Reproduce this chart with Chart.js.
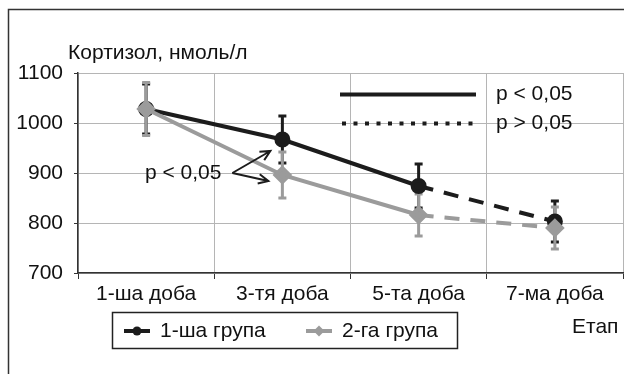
<!DOCTYPE html>
<html lang="uk">
<head>
    <meta charset="UTF-8">
    <title>Кортизол</title>
    <script src="https://cdn.jsdelivr.net/npm/chart.js"></script>
</head>
<body style="margin:0;background:#fff">
    <div style="width:624px;height:374px;position:relative">
        <canvas id="myChart" width="624" height="374"></canvas>
    </div>
<script>
    // дані з рисунка
    var stages = ['1-ша доба', '3-тя доба', '5-та доба', '7-ма доба'];
    var group1 = [1028, 967, 874, 803];
    var group2 = [1028, 896, 816, 790];
    var group1Err = [50, 47, 44, 41];
    var group2Err = [53, 46, 42, 42];
    var yTicks = [700, 800, 900, 1000, 1100];

    var FONT = "'Liberation Sans', Arial, sans-serif";
    var FSIZE = 21;
    var BLACK = '#1c1c1c';
    var GRAY = '#9b9b9b';

    // пунктир для останнього відрізку (5-та -> 7-ма доба)
    function lastDash(ctx) {
        return ctx.p0DataIndex === 2 ? [15, 11] : undefined;
    }

    var errorBars = {
        id: 'errorBars',
        beforeDatasetsDraw(chart) {
            var c = chart.ctx, ys = chart.scales.y;
            var sets = [[0, group1Err, BLACK], [1, group2Err, GRAY]];
            c.save();
            sets.forEach(function (s) {
                var meta = chart.getDatasetMeta(s[0]);
                var vals = chart.data.datasets[s[0]].data;
                c.strokeStyle = s[2];
                c.lineWidth = 3;
                meta.data.forEach(function (pt, i) {
                    var top = ys.getPixelForValue(vals[i] + s[1][i]);
                    var bot = ys.getPixelForValue(vals[i] - s[1][i]);
                    c.beginPath();
                    c.moveTo(pt.x, top); c.lineTo(pt.x, bot);
                    c.moveTo(pt.x - 4, top); c.lineTo(pt.x + 4, top);
                    c.moveTo(pt.x - 4, bot); c.lineTo(pt.x + 4, bot);
                    c.stroke();
                });
            });
            c.restore();
        }
    };

    var extras = {
        id: 'extras',
        afterDraw(chart) {
            var c = chart.ctx, xs = chart.scales.x, ys = chart.scales.y;
            var a = chart.chartArea;
            c.save();
            // рамка
            c.strokeStyle = '#333';
            c.lineWidth = 1.5;
            c.strokeRect(8.5, 9.5, 800, 600);

            c.fillStyle = '#111';
            c.font = FSIZE + 'px ' + FONT;
            c.textBaseline = 'middle';
            c.textAlign = 'left';
            c.fillText('Кортизол, нмоль/л', 68, 53);
            c.fillText('Етап', 572, 327);

            // p-позначення
            c.strokeStyle = BLACK;
            c.lineWidth = 4;
            var y1 = ys.getPixelForValue(1057), y2 = ys.getPixelForValue(999);
            c.beginPath(); c.moveTo(a.left + 262, y1); c.lineTo(a.left + 398, y1); c.stroke();
            c.setLineDash([4, 7.5]);
            c.beginPath(); c.moveTo(a.left + 264, y2); c.lineTo(a.left + 396, y2); c.stroke();
            c.setLineDash([]);
            c.fillText('p < 0,05', a.left + 418, y1);
            c.fillText('p > 0,05', a.left + 418, y2);

            // підпис і стрілки
            var x3 = xs.getPixelForValue(1);
            var ty = ys.getPixelForValue(900);
            c.textAlign = 'right';
            c.fillText('p < 0,05', x3 - 61, ty);
            c.lineWidth = 2;
            var tips = [[x3 - 12, ys.getPixelForValue(944)], [x3 - 14, ys.getPixelForValue(884)]];
            tips.forEach(function (t) {
                var sx = x3 - 50, sy = ty;
                var ang = Math.atan2(t[1] - sy, t[0] - sx);
                c.beginPath();
                c.moveTo(sx, sy); c.lineTo(t[0], t[1]);
                c.moveTo(t[0] - 11 * Math.cos(ang - 0.45), t[1] - 11 * Math.sin(ang - 0.45));
                c.lineTo(t[0], t[1]);
                c.lineTo(t[0] - 11 * Math.cos(ang + 0.45), t[1] - 11 * Math.sin(ang + 0.45));
                c.stroke();
            });

            // легенда
            c.strokeStyle = '#222';
            c.lineWidth = 1.5;
            c.strokeRect(112.5, 312.5, 345, 36);
            var ly = 331;
            var items = [[124, '1-ша група', BLACK, 'circle'], [306, '2-га група', GRAY, 'diamond']];
            items.forEach(function (it) {
                c.strokeStyle = it[2];
                c.fillStyle = it[2];
                c.lineWidth = 4;
                c.beginPath(); c.moveTo(it[0], ly); c.lineTo(it[0] + 26, ly); c.stroke();
                c.beginPath();
                if (it[3] === 'circle') {
                    c.arc(it[0] + 13, ly, 4.5, 0, Math.PI * 2);
                } else {
                    c.moveTo(it[0] + 13, ly - 5.5); c.lineTo(it[0] + 18.5, ly);
                    c.lineTo(it[0] + 13, ly + 5.5); c.lineTo(it[0] + 7.5, ly);
                    c.closePath();
                }
                c.fill();
                c.fillStyle = '#111';
                c.textAlign = 'left';
                c.fillText(it[1], it[0] + 36, ly);
            });
            c.restore();
        }
    };

    var ctx = document.getElementById('myChart').getContext('2d');
    var myChart = new Chart(ctx, {
        type: 'line',
        data: {
            labels: stages,
            datasets: [{
                label: '1-ша група',
                data: group1,
                borderColor: BLACK,
                backgroundColor: BLACK,
                borderWidth: 4,
                pointRadius: 6,
                pointStyle: 'circle',
                segment: { borderDash: lastDash },
                order: 2
            }, {
                label: '2-га група',
                data: group2,
                borderColor: GRAY,
                backgroundColor: GRAY,
                borderWidth: 4,
                pointRadius: 7,
                pointStyle: 'rectRot',
                segment: { borderDash: lastDash },
                order: 1
            }]
        },
        options: {
            responsive: false,
            animation: false,
            layout: { autoPadding: false, padding: { top: 73, right: 1, left: 0, bottom: 0 } },
            plugins: { legend: { display: false }, tooltip: { enabled: false } },
            scales: {
                x: {
                    offset: true,
                    afterFit: function (s) { s.height = 101; },
                    grid: { offset: true, color: '#b5b5b5', tickColor: '#333', tickLength: 6, borderDash: [1, 1] },
                    border: { color: '#333', width: 1.5 },
                    ticks: { color: '#111', font: { family: FONT, size: FSIZE }, padding: 3 }
                },
                y: {
                    min: 700, max: 1100,
                    afterFit: function (s) { s.width = 78; },
                    afterBuildTicks: function (s) { s.ticks = yTicks.map(function (v) { return { value: v }; }); },
                    grid: { color: '#b5b5b5', tickColor: '#333', tickLength: 4, borderDash: [1, 1] },
                    border: { color: '#333', width: 1.5 },
                    ticks: {
                        color: '#111', font: { family: FONT, size: FSIZE }, padding: 11,
                        callback: function (v) { return String(v); }
                    }
                }
            }
        },
        plugins: [errorBars, extras]
    });
</script>
</body>
</html>
